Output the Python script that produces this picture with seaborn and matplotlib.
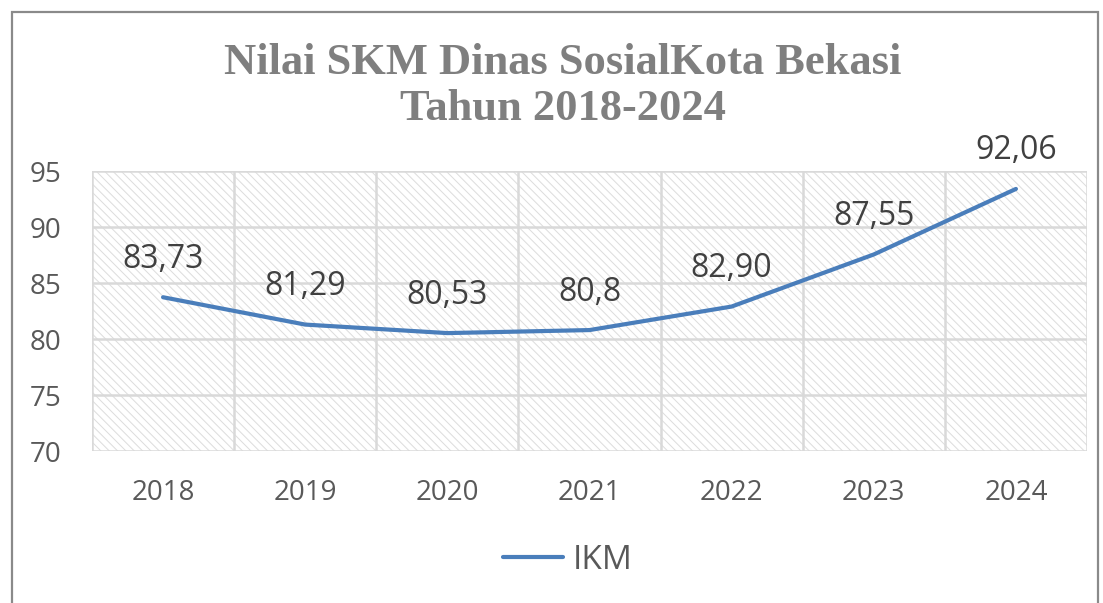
"""Nilai SKM Dinas Sosial Kota Bekasi line chart"""
import matplotlib
matplotlib.use("Agg")
import matplotlib.pyplot as plt
from matplotlib.patches import Rectangle
import pandas as pd
import seaborn as sns

years = ["2018", "2019", "2020", "2021", "2022", "2023", "2024"]
ikm = [83.73, 81.29, 80.53, 80.8, 82.90, 87.55, 93.4]
point_labels = ["83,73", "81,29", "80,53", "80,8", "82,90", "87,55", "92,06"]
yticks = [70, 75, 80, 85, 90, 95]

TXT = "#595959"
GRID = "#d9d9d9"
BLUE = "#4a7ebb"


def main():
    df = pd.DataFrame({"year": years, "IKM": ikm})
    df["x"] = range(len(years))

    sns.set_theme(style="white")
    plt.rcParams["font.family"] = ["Open Sans", "DejaVu Sans"]
    plt.rcParams["hatch.linewidth"] = 0.7

    fig = plt.figure(figsize=(11.03, 6.03), dpi=100)
    ax = fig.add_axes([0.0834, 0.252, 0.9021, 0.4644])

    # outer chart frame
    fig.patches.append(
        Rectangle((12 / 1103, -0.05), 1086 / 1103, 1.05 - 12 / 603,
                  transform=fig.transFigure, fill=False,
                  edgecolor="#8a8a8a", linewidth=1.6)
    )

    # hatched plot area
    ax.add_patch(
        Rectangle((-0.5, 70), len(years), 25, facecolor="white",
                  edgecolor="#dcdcdc", hatch="\\\\\\\\", linewidth=0,
                  zorder=0)
    )

    sns.lineplot(data=df, x="x", y="IKM", ax=ax, color=BLUE,
                 linewidth=3.0, label="IKM", zorder=3)

    for xi, yi, lab in zip(df["x"], df["IKM"], point_labels):
        ax.annotate(lab, (xi, yi), xytext=(0, 38), textcoords="offset pixels",
                    ha="center", va="center", fontsize=23, color="#404040",
                    zorder=4)

    ax.set_xlim(-0.5, len(years) - 0.5)
    ax.set_ylim(70, 95)
    ax.set_yticks(yticks)
    ax.set_xticks(range(len(years)))
    ax.set_xticklabels(years)
    ax.set_xlabel("")
    ax.set_ylabel("")
    ax.tick_params(axis="both", length=0, labelsize=20, labelcolor=TXT)
    ax.tick_params(axis="x", pad=20)
    ax.tick_params(axis="y", pad=22)

    for v in yticks:
        ax.axhline(v, color=GRID, linewidth=1.8, zorder=1)
    for k in range(len(years) + 1):
        ax.axvline(k - 0.5, color=GRID, linewidth=1.8, zorder=1)
    for s in ax.spines.values():
        s.set_visible(False)

    fig.text(0.51, 0.896, "Nilai SKM Dinas SosialKota Bekasi", ha="center",
             va="center", fontsize=32, fontweight="bold", color="#7f7f7f",
             family=["Liberation Serif", "DejaVu Serif"])
    fig.text(0.51, 0.82, "Tahun 2018-2024", ha="center", va="center",
             fontsize=32, fontweight="bold", color="#7f7f7f",
             family=["Liberation Serif", "DejaVu Serif"])

    leg = ax.legend(loc="center", bbox_to_anchor=(0.478, -0.39),
                    frameon=False, fontsize=24, handlelength=1.8,
                    handletextpad=0.3)
    for t in leg.get_texts():
        t.set_color(TXT)

    fig.savefig("out.png", dpi=100)
    plt.close()


if __name__ == "__main__":
    main()
